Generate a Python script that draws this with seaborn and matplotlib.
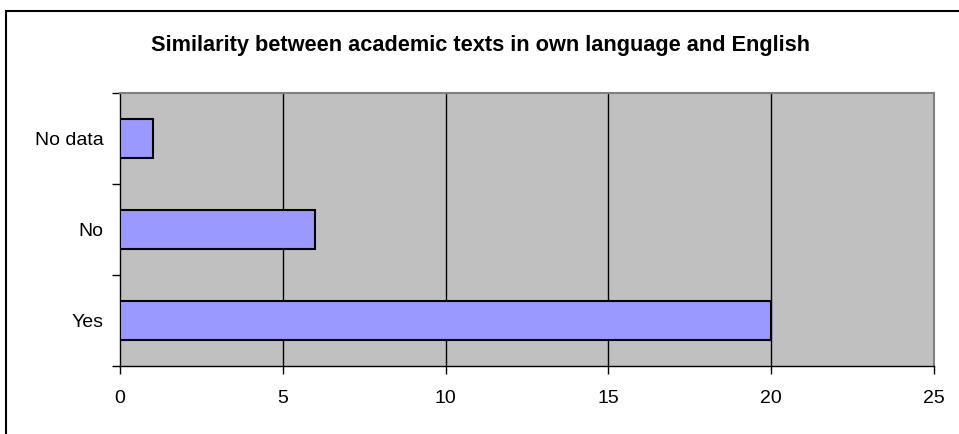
import matplotlib
matplotlib.use('Agg')
import matplotlib.pyplot as plt
import seaborn as sns
import pandas as pd
from matplotlib.patches import Rectangle

categories = ['No data', 'No', 'Yes']
counts = [1, 6, 20]
x_ticks = [0, 5, 10, 15, 20, 25]
title = 'Similarity between academic texts in own language and English'

sns.set_style('white')
plt.rcParams['font.family'] = ['Liberation Sans', 'DejaVu Sans']
plt.rcParams['text.color'] = 'black'
plt.rcParams['xtick.color'] = 'black'
plt.rcParams['ytick.color'] = 'black'

W, H = 959, 434
fig = plt.figure(figsize=(W / 100, H / 100), dpi=100)
ax = fig.add_axes([120 / W, 1 - 366 / H, (934 - 120) / W, (366 - 93) / H])

df = pd.DataFrame({'Answer': categories, 'Count': counts})
sns.barplot(data=df, x='Count', y='Answer', order=categories, orient='h',
            color='#9999FF', saturation=1, width=0.42,
            edgecolor='black', linewidth=1.5, ax=ax, zorder=3)

ax.set_facecolor('#C0C0C0')
ax.set_xlim(0, 25)
ax.set_ylim(len(categories) - 0.5, -0.5)
ax.set_xticks(x_ticks)
ax.set_xticklabels([str(t) for t in x_ticks])
for t in x_ticks[1:-1]:
    ax.axvline(t, color='black', linewidth=1, zorder=1)

ax.set_yticks(range(len(categories)))
ax.set_yticklabels(categories)
ax.set_yticks([i - 0.5 for i in range(len(categories) + 1)], minor=True)
ax.tick_params(axis='y', which='major', left=True, length=0, pad=12, labelsize=14)
ax.tick_params(axis='y', which='minor', left=True, length=6, width=1,
               color='black', direction='out')
ax.tick_params(axis='x', which='major', bottom=True, length=6, width=1,
               color='black', direction='out', pad=11, labelsize=14)
ax.set_xlabel('')
ax.set_ylabel('')

for side in ['left', 'bottom']:
    ax.spines[side].set_color('black')
    ax.spines[side].set_linewidth(1)
for side in ['top', 'right']:
    ax.spines[side].set_color('#808080')
    ax.spines[side].set_linewidth(1.5)

fig.text(480 / W, 1 - 45 / H, title, ha='center', va='center',
         fontsize=15.7, fontweight='bold', color='black')

# outer chart border (runs past the right/bottom edge of the image)
fig.patches.append(Rectangle((6 / W, -0.05), 1.1, 1 - 11 / H + 0.05,
                             transform=fig.transFigure, fill=False,
                             edgecolor='black', linewidth=1.5))

fig.savefig('out.png', dpi=100)
